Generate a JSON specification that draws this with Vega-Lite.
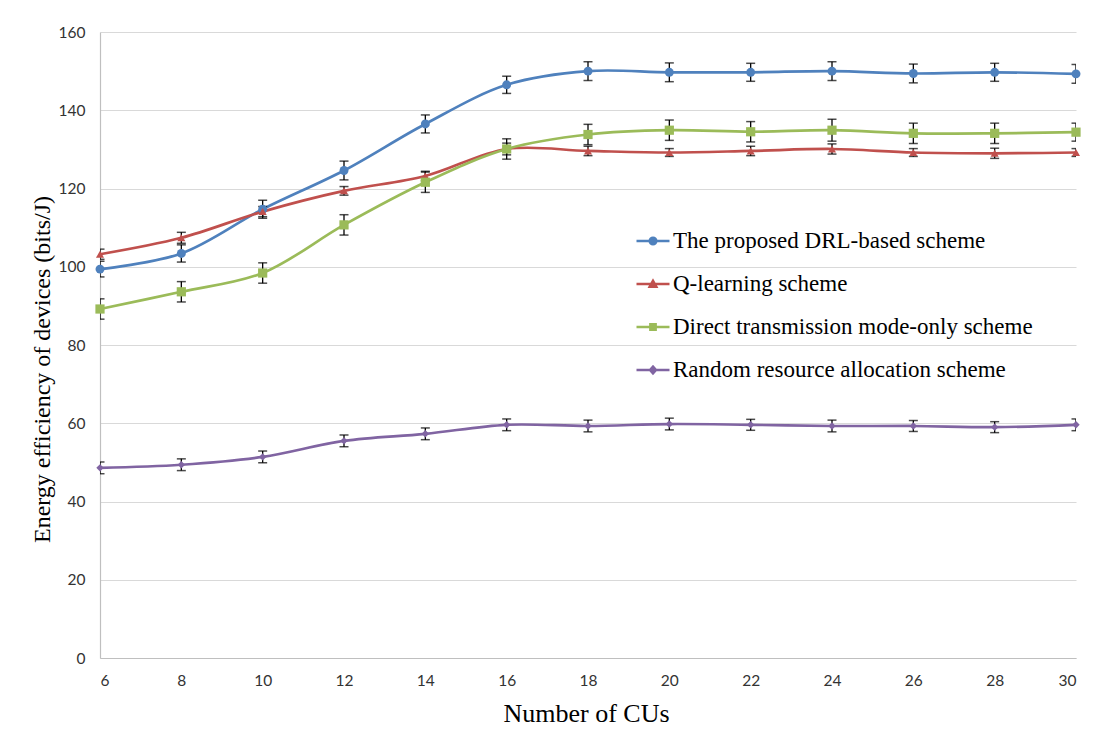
{
  "$schema": "https://vega.github.io/schema/vega-lite/v6.json",
  "width": 976,
  "height": 626,
  "autosize": {"type": "none"},
  "padding": {"left": 100, "top": 32, "right": 32, "bottom": 75},
  "background": "white",
  "config": {
    "view": {"stroke": null},
    "axis": {"labelFont": "Lato", "labelFontSize": 15.5, "labelColor": "#333333", "domainColor": "#bfbfbf", "domainWidth": 1.2, "ticks": false, "titleFont": "Liberation Serif", "titleFontWeight": "normal", "titleColor": "black"}
  },
  "data": {"values": [
    {"n": 6, "s": "The proposed DRL-based scheme", "v": 99.4, "lo": 97.4, "hi": 101.4},
    {"n": 8, "s": "The proposed DRL-based scheme", "v": 103.4, "lo": 101.2, "hi": 105.6},
    {"n": 10, "s": "The proposed DRL-based scheme", "v": 114.7, "lo": 112.4, "hi": 117.0},
    {"n": 12, "s": "The proposed DRL-based scheme", "v": 124.6, "lo": 122.2, "hi": 127.0},
    {"n": 14, "s": "The proposed DRL-based scheme", "v": 136.5, "lo": 134.2, "hi": 138.8},
    {"n": 16, "s": "The proposed DRL-based scheme", "v": 146.5, "lo": 144.3, "hi": 148.7},
    {"n": 18, "s": "The proposed DRL-based scheme", "v": 150.0, "lo": 147.6, "hi": 152.4},
    {"n": 20, "s": "The proposed DRL-based scheme", "v": 149.7, "lo": 147.3, "hi": 152.1},
    {"n": 22, "s": "The proposed DRL-based scheme", "v": 149.7, "lo": 147.4, "hi": 152.0},
    {"n": 24, "s": "The proposed DRL-based scheme", "v": 150.0, "lo": 147.6, "hi": 152.4},
    {"n": 26, "s": "The proposed DRL-based scheme", "v": 149.4, "lo": 147.0, "hi": 151.8},
    {"n": 28, "s": "The proposed DRL-based scheme", "v": 149.7, "lo": 147.4, "hi": 152.0},
    {"n": 30, "s": "The proposed DRL-based scheme", "v": 149.3, "lo": 146.9, "hi": 151.7},
    {"n": 6, "s": "Q-learning scheme", "v": 103.2, "lo": 101.9, "hi": 104.5},
    {"n": 8, "s": "Q-learning scheme", "v": 107.4, "lo": 106.0, "hi": 108.8},
    {"n": 10, "s": "Q-learning scheme", "v": 114.1, "lo": 112.8, "hi": 115.4},
    {"n": 12, "s": "Q-learning scheme", "v": 119.4, "lo": 118.3, "hi": 120.5},
    {"n": 14, "s": "Q-learning scheme", "v": 123.2, "lo": 122.0, "hi": 124.4},
    {"n": 16, "s": "Q-learning scheme", "v": 130.1, "lo": 128.6, "hi": 131.6},
    {"n": 18, "s": "Q-learning scheme", "v": 129.6, "lo": 128.4, "hi": 130.8},
    {"n": 20, "s": "Q-learning scheme", "v": 129.2, "lo": 128.2, "hi": 130.2},
    {"n": 22, "s": "Q-learning scheme", "v": 129.6, "lo": 128.4, "hi": 130.8},
    {"n": 24, "s": "Q-learning scheme", "v": 130.1, "lo": 128.8, "hi": 131.4},
    {"n": 26, "s": "Q-learning scheme", "v": 129.2, "lo": 128.2, "hi": 130.2},
    {"n": 28, "s": "Q-learning scheme", "v": 129.0, "lo": 127.7, "hi": 130.3},
    {"n": 30, "s": "Q-learning scheme", "v": 129.2, "lo": 128.2, "hi": 130.2},
    {"n": 6, "s": "Direct transmission mode-only scheme", "v": 89.2, "lo": 86.6, "hi": 91.8},
    {"n": 8, "s": "Direct transmission mode-only scheme", "v": 93.6, "lo": 91.0, "hi": 96.2},
    {"n": 10, "s": "Direct transmission mode-only scheme", "v": 98.4, "lo": 95.8, "hi": 101.0},
    {"n": 12, "s": "Direct transmission mode-only scheme", "v": 110.7, "lo": 108.1, "hi": 113.3},
    {"n": 14, "s": "Direct transmission mode-only scheme", "v": 121.6, "lo": 119.0, "hi": 124.2},
    {"n": 16, "s": "Direct transmission mode-only scheme", "v": 130.1, "lo": 127.5, "hi": 132.7},
    {"n": 18, "s": "Direct transmission mode-only scheme", "v": 133.8, "lo": 131.2, "hi": 136.4},
    {"n": 20, "s": "Direct transmission mode-only scheme", "v": 134.9, "lo": 132.3, "hi": 137.5},
    {"n": 22, "s": "Direct transmission mode-only scheme", "v": 134.5, "lo": 131.9, "hi": 137.1},
    {"n": 24, "s": "Direct transmission mode-only scheme", "v": 134.9, "lo": 132.1, "hi": 137.7},
    {"n": 26, "s": "Direct transmission mode-only scheme", "v": 134.1, "lo": 131.5, "hi": 136.7},
    {"n": 28, "s": "Direct transmission mode-only scheme", "v": 134.1, "lo": 131.5, "hi": 136.7},
    {"n": 30, "s": "Direct transmission mode-only scheme", "v": 134.4, "lo": 132.1, "hi": 136.7},
    {"n": 6, "s": "Random resource allocation scheme", "v": 48.6, "lo": 47.1, "hi": 50.1},
    {"n": 8, "s": "Random resource allocation scheme", "v": 49.4, "lo": 47.9, "hi": 50.9},
    {"n": 10, "s": "Random resource allocation scheme", "v": 51.4, "lo": 49.9, "hi": 52.9},
    {"n": 12, "s": "Random resource allocation scheme", "v": 55.5, "lo": 54.0, "hi": 57.0},
    {"n": 14, "s": "Random resource allocation scheme", "v": 57.3, "lo": 55.8, "hi": 58.8},
    {"n": 16, "s": "Random resource allocation scheme", "v": 59.6, "lo": 58.1, "hi": 61.1},
    {"n": 18, "s": "Random resource allocation scheme", "v": 59.3, "lo": 57.8, "hi": 60.8},
    {"n": 20, "s": "Random resource allocation scheme", "v": 59.8, "lo": 58.3, "hi": 61.3},
    {"n": 22, "s": "Random resource allocation scheme", "v": 59.6, "lo": 58.2, "hi": 61.0},
    {"n": 24, "s": "Random resource allocation scheme", "v": 59.3, "lo": 57.8, "hi": 60.8},
    {"n": 26, "s": "Random resource allocation scheme", "v": 59.3, "lo": 57.9, "hi": 60.7},
    {"n": 28, "s": "Random resource allocation scheme", "v": 59.0, "lo": 57.6, "hi": 60.4},
    {"n": 30, "s": "Random resource allocation scheme", "v": 59.6, "lo": 58.1, "hi": 61.1}
  ]},
  "encoding": {
    "x": {
      "field": "n", "type": "quantitative",
      "scale": {"domain": [6, 30], "nice": false, "zero": false},
      "axis": {"values": [6, 8, 10, 12, 14, 16, 18, 20, 22, 24, 26, 28, 30], "grid": false, "labelPadding": 15,
        "title": "Number of CUs", "titleFontSize": 26, "titleX": 486, "titleY": 55, "titleBaseline": "middle", "titleAlign": "center"}
    }
  },
  "layer": [
    {
      "mark": {"type": "line", "interpolate": "catmull-rom", "strokeWidth": 2.7},
      "encoding": {
        "y": {"field": "v", "type": "quantitative",
          "scale": {"domain": [0, 160], "nice": false},
          "axis": {"values": [0, 20, 40, 60, 80, 100, 120, 140, 160], "grid": true, "gridColor": "#d9d9d9", "gridWidth": 1.2, "labelPadding": 15,
            "title": "Energy efficiency of devices (bits/J)", "titleFontSize": 24, "titleX": -58, "titleY": 337, "titleAngle": -90, "titleAlign": "center", "titleBaseline": "middle"}},
        "color": {"field": "s", "type": "nominal",
          "scale": {"domain": ["The proposed DRL-based scheme", "Q-learning scheme", "Direct transmission mode-only scheme", "Random resource allocation scheme"],
                    "range": ["#4f81bd", "#c0504d", "#9bbb59", "#8064a2"]},
          "legend": {
            "orient": "none", "legendX": 535, "legendY": 191, "title": null,
            "labelFont": "Liberation Serif", "labelFontSize": 23, "labelColor": "black", "labelOffset": 2, "labelLimit": 0,
            "symbolSize": 1089, "symbolStrokeWidth": 2.5, "rowPadding": 13, "padding": 0,
            "encode": {"symbols": {"update": {
              "shape": {"signal": "datum.value == 'The proposed DRL-based scheme' ? 'M-1,0H1M-0.2,0A0.2,0.2 0 1,0 0.2,0A0.2,0.2 0 1,0 -0.2,0Z' : datum.value == 'Q-learning scheme' ? 'M-1,0H1M-0.2,0.16L0,-0.2L0.2,0.16Z' : datum.value == 'Direct transmission mode-only scheme' ? 'M-1,0H1M-0.16,-0.16H0.16V0.16H-0.16Z' : 'M-1,0H1M0,-0.2L0.18,0L0,0.2L-0.18,0Z'"},
              "fill": {"signal": "scale('color', datum.value)"},
              "stroke": {"signal": "scale('color', datum.value)"},
              "strokeWidth": {"value": 2.5},
              "size": {"value": 1089}
            }}}
          }}
      }
    },
    {
      "mark": {"type": "rule", "color": "black", "strokeWidth": 1.3, "clip": true},
      "encoding": {
        "y": {"field": "lo", "type": "quantitative"},
        "y2": {"field": "hi"}
      }
    },
    {
      "mark": {"type": "tick", "orient": "horizontal", "color": "black", "size": 9, "thickness": 1.5, "clip": true},
      "encoding": {"y": {"field": "lo", "type": "quantitative"}}
    },
    {
      "mark": {"type": "tick", "orient": "horizontal", "color": "black", "size": 9, "thickness": 1.5, "clip": true},
      "encoding": {"y": {"field": "hi", "type": "quantitative"}}
    },
    {
      "transform": [{"filter": "datum.s == 'The proposed DRL-based scheme'"}],
      "mark": {"type": "point", "filled": true, "opacity": 1, "shape": "circle", "size": 80, "color": "#4f81bd"},
      "encoding": {"y": {"field": "v", "type": "quantitative"}}
    },
    {
      "transform": [{"filter": "datum.s == 'Q-learning scheme'"}],
      "mark": {"type": "point", "filled": true, "opacity": 1, "shape": "triangle-up", "size": 65, "color": "#c0504d"},
      "encoding": {"y": {"field": "v", "type": "quantitative"}}
    },
    {
      "transform": [{"filter": "datum.s == 'Direct transmission mode-only scheme'"}],
      "mark": {"type": "point", "filled": true, "opacity": 1, "shape": "square", "size": 85, "color": "#9bbb59"},
      "encoding": {"y": {"field": "v", "type": "quantitative"}}
    },
    {
      "transform": [{"filter": "datum.s == 'Random resource allocation scheme'"}],
      "mark": {"type": "point", "filled": true, "opacity": 1, "shape": "diamond", "size": 55, "color": "#8064a2"},
      "encoding": {"y": {"field": "v", "type": "quantitative"}}
    }
  ]
}
